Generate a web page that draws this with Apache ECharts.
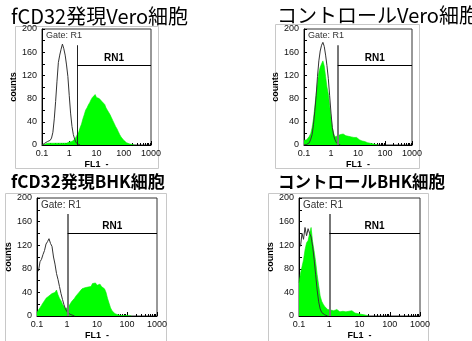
<!DOCTYPE html>
<html>
<head>
<meta charset="utf-8">
<script src="https://cdn.jsdelivr.net/npm/echarts@6.0.0/dist/echarts.min.js"></script>
<style>
  html, body { margin: 0; padding: 0; background: #fff; }
  #chart { width: 472px; height: 341px; }
</style>
</head>
<body>
<div id="chart"></div>
<script>
// FL1 channels, 20 per decade from 0.1 to 1000
const channelSteps = [1, 1.12, 1.26, 1.41, 1.58, 1.78, 2, 2.24, 2.51, 2.82, 3.16, 3.55, 3.98, 4.47, 5.01, 5.62, 6.31, 7.08, 7.94, 8.91];
const decadeStarts = [0.1, 1, 10, 100];
const fl1Channels = decadeStarts.flatMap(d => channelSteps.map(m => +(d * m).toPrecision(3))).concat([1000]);

const panelTitles = ["fCD32発現Vero細胞", "コントロールVero細胞", "fCD32発現BHK細胞", "コントロールBHK細胞"];

// counts per channel (green = stained sample, black = control outline)
const veroFcd32Green = [0, 0, 1, 2, 3, 2, 3, 2, 3, 4, 3, 2, 3, 4, 3, 2, 3, 4, 3, 4,
  5, 4, 6, 8, 10, 14, 17, 23, 30, 36, 45, 52, 60, 64, 69, 73, 78, 82, 79, 87,
  82, 84, 80, 78, 75, 72, 70, 64, 60, 56, 52, 47, 42, 37, 32, 28, 23, 18, 14, 11,
  8, 6, 4, 3, 2, 2, 1, 1, 0];
const veroFcd32Black = [0, 0, 3, 5, 6, 7, 8, 12, 22, 45, 75, 110, 142, 155, 165, 174, 166, 155, 138, 118,
  85, 55, 32, 18, 10, 4, 2, 1, 0];

const veroCtrlGreen = [8, 10, 9, 12, 15, 20, 30, 45, 65, 88, 108, 125, 134, 140, 145, 136, 118, 100, 88, 68,
  48, 30, 20, 14, 12, 16, 15, 18, 16, 19, 17, 16, 18, 15, 17, 14, 15, 13, 12, 13,
  10, 9, 9, 7, 7, 6, 5, 4, 4, 3, 3, 2, 2, 1, 1, 0];
const veroCtrlBlack = [0, 1, 1, 2, 4, 10, 18, 35, 58, 85, 118, 145, 162, 172, 177, 170, 155, 137, 115, 85,
  55, 30, 16, 9, 4, 2, 1, 0];

const bhkFcd32Green = [6, 10, 14, 18, 22, 26, 30, 32, 34, 36, 38, 35, 40, 44, 36, 30, 26, 20, 16, 12,
  12, 16, 20, 24, 27, 30, 34, 37, 40, 42, 46, 44, 48, 50, 49, 52, 50, 55, 53, 56,
  52, 55, 54, 50, 51, 46, 40, 30, 22, 14, 9, 6, 4, 3, 2, 1, 1, 1, 1, 1,
  1, 1, 1, 0];
const bhkFcd32Black = ["-", 76, 92, 96, 104, 111, 122, 126, 131, 123, 118, 100, 88, 72, 62, 50, 38, 28, 19, 12,
  7, 5, 3, 2, 1, 0];

const bhkCtrlGreen = [56, 72, 84, 95, 112, 124, 128, 140, 150, 126, 110, 92, 70, 52, 34, 25, 20, 16, 13, 11,
  9, 10, 12, 9, 8, 11, 9, 7, 10, 8, 9, 7, 6, 8, 7, 9, 6, 5, 5, 4,
  3, 3, 2, 2, 1, 1, 0];
const bhkCtrlBlack = ["-", 118, 140, 130, 150, 136, 148, 140, 134, 118, 96, 70, 44, 24, 12, 6, 3, 2, 1, 0];

const greenSeries = [veroFcd32Green, veroCtrlGreen, bhkFcd32Green, bhkCtrlGreen];
const blackSeries = [veroFcd32Black, veroCtrlBlack, bhkFcd32Black, bhkCtrlBlack];

// RN1 marker: gate position on FL1, top of the gate bar, level of the RN1 bar
const gatePositions = [1.95, 1.77, 1.05, 1.0];
const gateTops = [172, 172, 173, 173];
const rn1Levels = [138, 138, 140, 140];

const countsMax = 200;
const countsStep = 40;
const fl1Min = 0.1;
const fl1Max = 1000;

// layout of the four panels
const panels = [
  { left: 42, top: 29, width: 109, height: 116, frame: [15, 26, 143, 142], titleX: 11, titleY: 16, bold: false, size: 20 },
  { left: 304, top: 29, width: 108, height: 116, frame: [275, 24, 144, 144], titleX: 277, titleY: 15, bold: false, size: 20 },
  { left: 37, top: 198, width: 120, height: 118, frame: [5, 193, 161, 160], titleX: 11, titleY: 182, bold: true, size: 17 },
  { left: 299, top: 198, width: 121, height: 118, frame: [268, 193, 160, 160], titleX: 278, titleY: 182, bold: true, size: 16.5 }
];

const tickFont = "'Liberation Sans', Arial, sans-serif";
const cjkFont = "'Noto Sans CJK JP', 'Noto Sans', sans-serif";

const toPairs = counts => counts.map((c, i) => [fl1Channels[i], c]);

const chart = echarts.init(document.getElementById("chart"), null, { renderer: "canvas" });

const option = {
  animation: false,
  backgroundColor: "#fff",
  grid: panels.map(p => ({
    left: p.left, top: p.top, width: p.width, height: p.height,
    show: true, borderColor: "#333", borderWidth: 1, backgroundColor: "#fff"
  })),
  xAxis: panels.map((p, i) => ({
    gridIndex: i,
    type: "log",
    logBase: 10,
    min: fl1Min,
    max: fl1Max,
    axisLine: { show: true, lineStyle: { color: "#000", width: 1 } },
    axisTick: { show: true, inside: true, length: 4, lineStyle: { color: "#000" } },
    minorTick: { show: true, splitNumber: 9, length: 2, lineStyle: { color: "#000" } },
    axisLabel: { fontSize: 9, color: "#111", margin: 4, fontFamily: tickFont, formatter: v => String(v) },
    splitLine: { show: false },
    name: "FL1  -",
    nameLocation: "middle",
    nameGap: 15,
    nameTextStyle: { fontSize: 9, fontWeight: "bold", color: "#000", fontFamily: tickFont }
  })),
  yAxis: panels.map((p, i) => ({
    gridIndex: i,
    type: "value",
    min: 0,
    max: countsMax,
    interval: countsStep,
    axisLine: { show: true, lineStyle: { color: "#000", width: 1 } },
    axisTick: { show: true, inside: true, length: 3, lineStyle: { color: "#000" } },
    minorTick: { show: true, splitNumber: 2, length: 3, lineStyle: { color: "#000" } },
    axisLabel: { fontSize: 9, color: "#111", margin: 5, fontFamily: tickFont },
    splitLine: { show: false },
    name: "counts",
    nameLocation: "middle",
    nameGap: 16,
    nameTextStyle: { fontSize: 9, fontWeight: "bold", color: "#000", fontFamily: tickFont }
  })),
  series: panels.flatMap((p, i) => [
    {
      type: "line",
      xAxisIndex: i,
      yAxisIndex: i,
      data: toPairs(greenSeries[i]),
      showSymbol: false,
      silent: true,
      lineStyle: { color: "#00ee00", width: 0.6 },
      areaStyle: { color: "#00ff00", opacity: 1 },
      z: 2,
      markLine: {
        silent: true,
        symbol: "none",
        animation: false,
        data: [
          [
            { coord: [gatePositions[i], 0], lineStyle: { color: i === 0 ? "#222" : "#777", width: i === 0 ? 1 : 2, type: "solid" }, label: { show: false } },
            { coord: [gatePositions[i], gateTops[i]] }
          ],
          [
            {
              coord: [gatePositions[i], rn1Levels[i]],
              lineStyle: { color: "#000", width: 1, type: "solid" },
              label: {
                show: true, formatter: "RN1", position: "insideMiddleTop", distance: 2,
                fontSize: 10, fontWeight: "bold", color: "#000", fontFamily: tickFont
              }
            },
            { coord: [fl1Max, rn1Levels[i]] }
          ]
        ]
      }
    },
    {
      type: "line",
      xAxisIndex: i,
      yAxisIndex: i,
      data: toPairs(blackSeries[i]),
      showSymbol: false,
      silent: true,
      connectNulls: false,
      lineStyle: { color: "#333", width: 1 },
      z: 3
    }
  ]),
  graphic: panels.flatMap((p, i) => [
    {
      type: "rect", silent: true, z: -10,
      shape: { x: p.frame[0] + 0.5, y: p.frame[1] + 0.5, width: p.frame[2], height: p.frame[3] },
      style: { fill: null, stroke: "#c8c8c8", lineWidth: 1 }
    },
    {
      type: "text", silent: true, z: 10,
      x: p.titleX, y: p.titleY,
      style: {
        text: panelTitles[i], fill: "#000", font: (p.bold ? "bold " : "") + p.size + "px " + cjkFont,
        textVerticalAlign: "middle"
      }
    },
    {
      type: "text", silent: true, z: 10,
      x: p.left + 4, y: p.top + 7,
      style: { text: "Gate: R1", fill: "#333", font: (i < 2 ? 9 : 10) + "px " + tickFont, textVerticalAlign: "middle" }
    }
  ])
};

chart.setOption(option);
</script>
</body>
</html>
